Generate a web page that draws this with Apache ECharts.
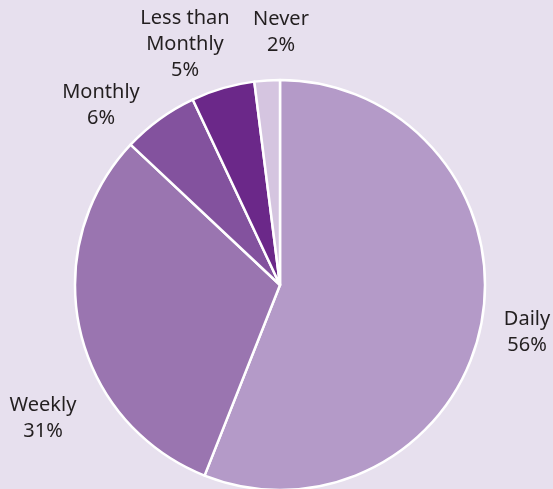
<!DOCTYPE html>
<html><head><meta charset="utf-8">
<script src="https://cdn.jsdelivr.net/npm/echarts@6/dist/echarts.min.js"></script>
<style>html,body{margin:0;padding:0;background:#e7e0ee}#c{width:553px;height:489px}</style>
</head><body><div id="c"></div>
<script>
const categories = ['Daily', 'Weekly', 'Monthly', 'Less than\nMonthly', 'Never'];
const values = [56, 31, 6, 5, 2];
const colors = ['#b49ac8', '#9a75b0', '#83529e', '#6b2889', '#d5c5e0'];
// label anchor positions (layout only)
const labelPos = [[527, 332], [43, 418], [101, 105], [185, 44], [281, 32]];

const chart = echarts.init(document.getElementById('c'));
chart.setOption({
  backgroundColor: '#e7e0ee',
  animation: false,
  series: [{
    type: 'pie',
    center: [280, 285],
    radius: 205,
    startAngle: 90,
    clockwise: true,
    avoidLabelOverlap: false,
    data: categories.map((n, i) => ({ name: n, value: values[i], itemStyle: { color: colors[i] } })),
    itemStyle: { borderColor: '#ffffff', borderWidth: 2.5 },
    label: {
      show: true,
      position: 'outside',
      formatter: p => p.name + '\n' + p.value + '%',
      color: '#231f20',
      fontFamily: 'Noto Sans',
      fontSize: 20,
      lineHeight: 26,
      align: 'center',
      overflow: 'none',
      width: 200
    },
    labelLine: { show: false },
    labelLayout: function (params) {
      const p = labelPos[params.dataIndex];
      return { x: p[0], y: p[1], align: 'center', verticalAlign: 'middle' };
    },
    emphasis: { disabled: true }
  }]
});
</script></body></html>
